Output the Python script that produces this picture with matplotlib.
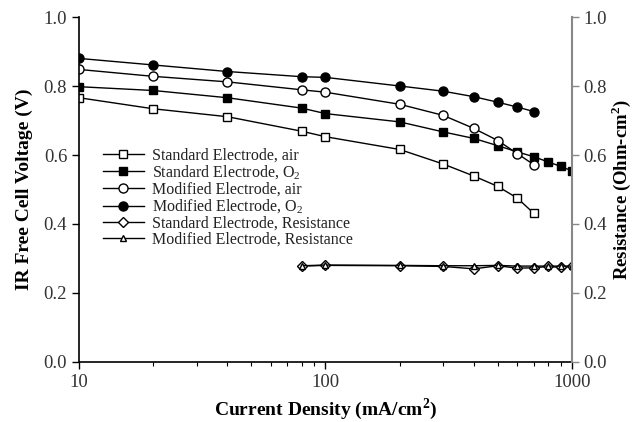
import matplotlib
matplotlib.use("Agg")
import matplotlib.pyplot as plt
from matplotlib.ticker import LogLocator, NullFormatter

plt.rcParams['font.family'] = ['Liberation Serif', 'DejaVu Serif']
plt.rcParams['mathtext.fontset'] = 'custom'
plt.rcParams['mathtext.rm'] = 'Liberation Serif'
plt.rcParams['mathtext.bf'] = 'Liberation Serif:bold'

x_short = [10, 20, 40, 80, 100, 200, 300, 400, 500, 600, 700]
x_long = [10, 20, 40, 80, 100, 200, 300, 400, 500, 600, 700, 800, 900, 1000]
x_res = [80, 100, 200, 300, 400, 500, 600, 700, 800, 900, 1000]

std_air = [0.766, 0.734, 0.711, 0.669, 0.653, 0.616, 0.574, 0.539, 0.509, 0.475, 0.431]
std_o2 = [0.798, 0.787, 0.766, 0.736, 0.720, 0.696, 0.667, 0.648, 0.627, 0.609,
          0.595, 0.580, 0.567, 0.554]
mod_air = [0.848, 0.828, 0.812, 0.789, 0.782, 0.747, 0.715, 0.677, 0.642, 0.604, 0.572]
mod_o2 = [0.880, 0.861, 0.842, 0.827, 0.825, 0.800, 0.785, 0.769, 0.753, 0.739, 0.726]
std_res = [0.278, 0.280, 0.279, 0.277, 0.270, 0.279, 0.272, 0.273, 0.277, 0.274, 0.277]
mod_res = [0.279, 0.281, 0.280, 0.279, 0.279, 0.280, 0.278, 0.278, 0.278, 0.278, 0.278]

labels = ["Standard Electrode, air", "Standard Electrode, O$_2$",
          "Modified Electrode, air", "Modified Electrode, O$_2$",
          "Standard Electrode, Resistance", "Modified Electrode, Resistance"]

fig = plt.figure(figsize=(6.33, 4.22), dpi=100)
ax = fig.add_axes([0.1248, 0.1422, 0.7788, 0.8175])
ax2 = ax.twinx()

lw = 1.0
h1, = ax.plot(x_short, std_air, '-s', color='black', mfc='white', mec='black', ms=5.5, lw=lw, mew=1.0)
h2, = ax.plot(x_long, std_o2, '-s', color='black', mfc='black', ms=5.5, lw=lw)
h3, = ax.plot(x_short, mod_air, '-o', color='black', mfc='white', mec='black', ms=6.5, lw=lw, mew=1.0)
h4, = ax.plot(x_short, mod_o2, '-o', color='black', mfc='black', ms=6.5, lw=lw)
h5, = ax2.plot(x_res, std_res, '-D', color='black', mfc='white', mec='black', ms=5, lw=lw, mew=1.0)
h6, = ax2.plot(x_res, mod_res, '-^', color='black', mfc='white', mec='black', ms=4, lw=lw, mew=1.0)

ax.set_xscale('log')
ax.set_xlim(10, 1000)
ax.set_ylim(0, 1.0)
ax2.set_ylim(0, 1.0)
ax.set_xticks([10, 100, 1000])
ax.set_xticklabels(['10', '100', '1000'])
ax.xaxis.set_minor_locator(LogLocator(base=10, subs=range(2, 10)))
ax.xaxis.set_minor_formatter(NullFormatter())
yt = [0.0, 0.2, 0.4, 0.6, 0.8, 1.0]
ax.set_yticks(yt)
ax.set_yticklabels(['%.1f' % v for v in yt])
ax2.set_yticks(yt)
ax2.set_yticklabels(['%.1f' % v for v in yt])

for a in (ax, ax2):
    a.spines['top'].set_visible(False)
    a.tick_params(direction='out', labelsize=13.5, colors='black', labelcolor='#333333')
ax.tick_params(which='major', length=5, width=1)
ax.tick_params(which='minor', length=3, width=0.8)
ax2.tick_params(which='major', length=5, width=1, color='#888888', pad=3)
ax2.spines['right'].set_color('#888888')
ax2.spines['right'].set_linewidth(1.5)
ax2.spines['left'].set_visible(False)
ax2.spines['bottom'].set_visible(False)
ax.spines['right'].set_visible(False)
ax.spines['left'].set_linewidth(1.2)
ax.spines['bottom'].set_linewidth(1.2)

ax.set_xlabel('Current Density (mA/cm$^\\mathbf{2}$)', fontsize=14, fontweight='bold', labelpad=4)
ax.set_ylabel('IR Free Cell Voltage (V)', fontsize=14, fontweight='bold', labelpad=8)
ax2.set_ylabel('Resistance (Ohm-cm$^\\mathbf{2}$)', fontsize=13.5, fontweight='bold', labelpad=2)

leg = ax.legend([h1, h2, h3, h4, h5, h6], labels, loc='upper left',
                bbox_to_anchor=(0.025, 0.655), frameon=False, fontsize=11.5,
                handlelength=2.6, labelspacing=0.0, handletextpad=0.5, borderpad=0.2)
for t in leg.get_texts():
    t.set_color('#222222')

fig.savefig('out.png', dpi=100)
